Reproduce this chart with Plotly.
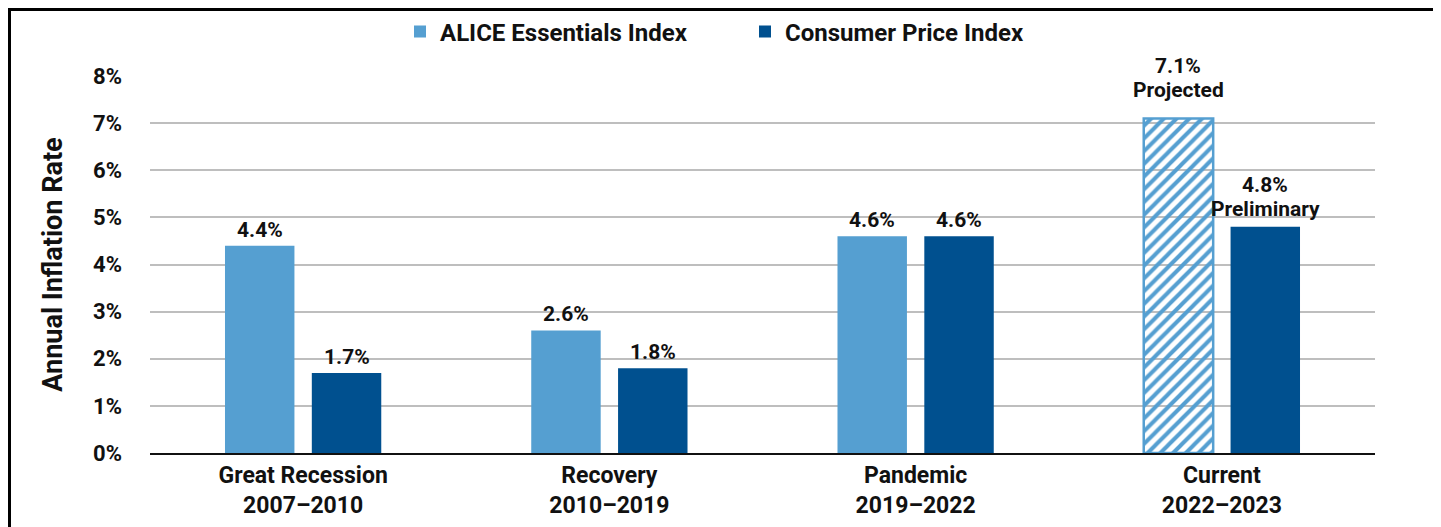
import plotly.graph_objects as go

categories = ["Great Recession<br>2007–2010", "Recovery<br>2010–2019",
              "Pandemic<br>2019–2022", "Current<br>2022–2023"]
alice_values = [4.4, 2.6, 4.6, 7.1]
cpi_values = [1.7, 1.8, 4.6, 4.8]
alice_labels = ["4.4%", "2.6%", "4.6%", "7.1%"]
cpi_labels = ["1.7%", "1.8%", "4.6%", "4.8%"]
alice_notes = ["", "", "", "Projected"]
cpi_notes = ["", "", "", "Preliminary"]
alice_hatch = ["", "", "", "/"]
y_ticks = [0, 1, 2, 3, 4, 5, 6, 7, 8]
y_ticklabels = ["0%", "1%", "2%", "3%", "4%", "5%", "6%", "7%", "8%"]

LIGHT = "#559FD1"
DARK = "#00508F"
FONT = "Roboto"
TXT = "#111111"

n = len(categories)
fig = go.Figure()
fig.add_trace(go.Bar(
    name="ALICE Essentials Index", x=categories, y=alice_values,
    marker=dict(
        color=[LIGHT] * n,
        line=dict(color=LIGHT, width=[0 if s == "" else 2.5 for s in alice_hatch]),
        pattern=dict(shape=alice_hatch, fgcolor=[LIGHT] * n,
                     bgcolor=["rgba(0,0,0,0)"] * n,
                     fillmode="replace", size=9, solidity=0.45),
    ),
))
fig.add_trace(go.Bar(
    name="Consumer Price Index", x=categories, y=cpi_values,
    marker=dict(color=DARK, line=dict(width=0)),
))

# page body has an 8px margin; positions below are window positions minus 8
OFF = 8
W, H = 1441, 527
L, T = 150 - OFF, 76 - OFF
R = W - (1375 - OFF)
B = H - (453 - OFF)
pw, ph = W - L - R, H - T - B

BARGAP, GROUPGAP = 0.433, 0.2
cat_px = pw / n
shift = (1 - BARGAP) * cat_px / 4  # centre of each bar relative to category centre

annotations = []
lab_font = dict(family=FONT, size=21, color=TXT, weight="bold")
for vals, labs, notes, sign in [
    (alice_values, alice_labels, alice_notes, -1),
    (cpi_values, cpi_labels, cpi_notes, 1),
]:
    for cat, v, lab, note in zip(categories, vals, labs, notes):
        if note:
            extra = 14 if sign < 0 else 4
            annotations.append(dict(x=cat, y=v, text=note, showarrow=False,
                                    xshift=sign * shift, yshift=extra,
                                    yanchor="bottom", font=lab_font))
            annotations.append(dict(x=cat, y=v, text=lab, showarrow=False,
                                    xshift=sign * shift, yshift=extra + 24,
                                    yanchor="bottom", font=lab_font))
        else:
            annotations.append(dict(x=cat, y=v, text=lab, showarrow=False,
                                    xshift=sign * shift, yshift=2,
                                    yanchor="bottom", font=lab_font))

fig.update_layout(
    width=W, height=H,
    margin=dict(l=L, r=R, t=T, b=B, autoexpand=False),
    plot_bgcolor="white", paper_bgcolor="white",
    barmode="group", bargap=BARGAP, bargroupgap=GROUPGAP,
    font=dict(family=FONT, color=TXT),
    showlegend=True,
    legend=dict(orientation="h", x=(745 - 150) / pw, xanchor="center",
                y=(453 - 32) / ph, yanchor="middle",
                font=dict(family=FONT, size=24, color=TXT, weight="bold"),
                itemwidth=30, entrywidth=300, tracegroupgap=0,
                bgcolor="rgba(0,0,0,0)"),
    xaxis=dict(tickfont=dict(family=FONT, size=23, color=TXT, weight="bold"),
               showgrid=False, showline=True, linecolor=TXT, linewidth=2,
               ticks=""),
    yaxis=dict(range=[0, 8], tickvals=y_ticks, ticktext=y_ticklabels,
               tickfont=dict(family=FONT, size=22, color=TXT, weight="bold"),
               ticklabelstandoff=27,
               showgrid=True, gridcolor="#BEBEBE", gridwidth=2,
               zeroline=False, showline=False,
               title=dict(text="Annual Inflation Rate", standoff=22,
                          font=dict(family=FONT, size=27, color=TXT, weight="bold"))),
    annotations=annotations,
    shapes=[dict(type="rect", xref="paper", yref="paper",
                 x0=(1.5 - L) / pw, x1=(1437 - OFF - L) / pw,
                 y0=-0.5, y1=(H - B - 1.5) / ph,
                 line=dict(color="black", width=3), fillcolor="rgba(0,0,0,0)",
                 layer="above")],
)

fig.write_html("out.html")
